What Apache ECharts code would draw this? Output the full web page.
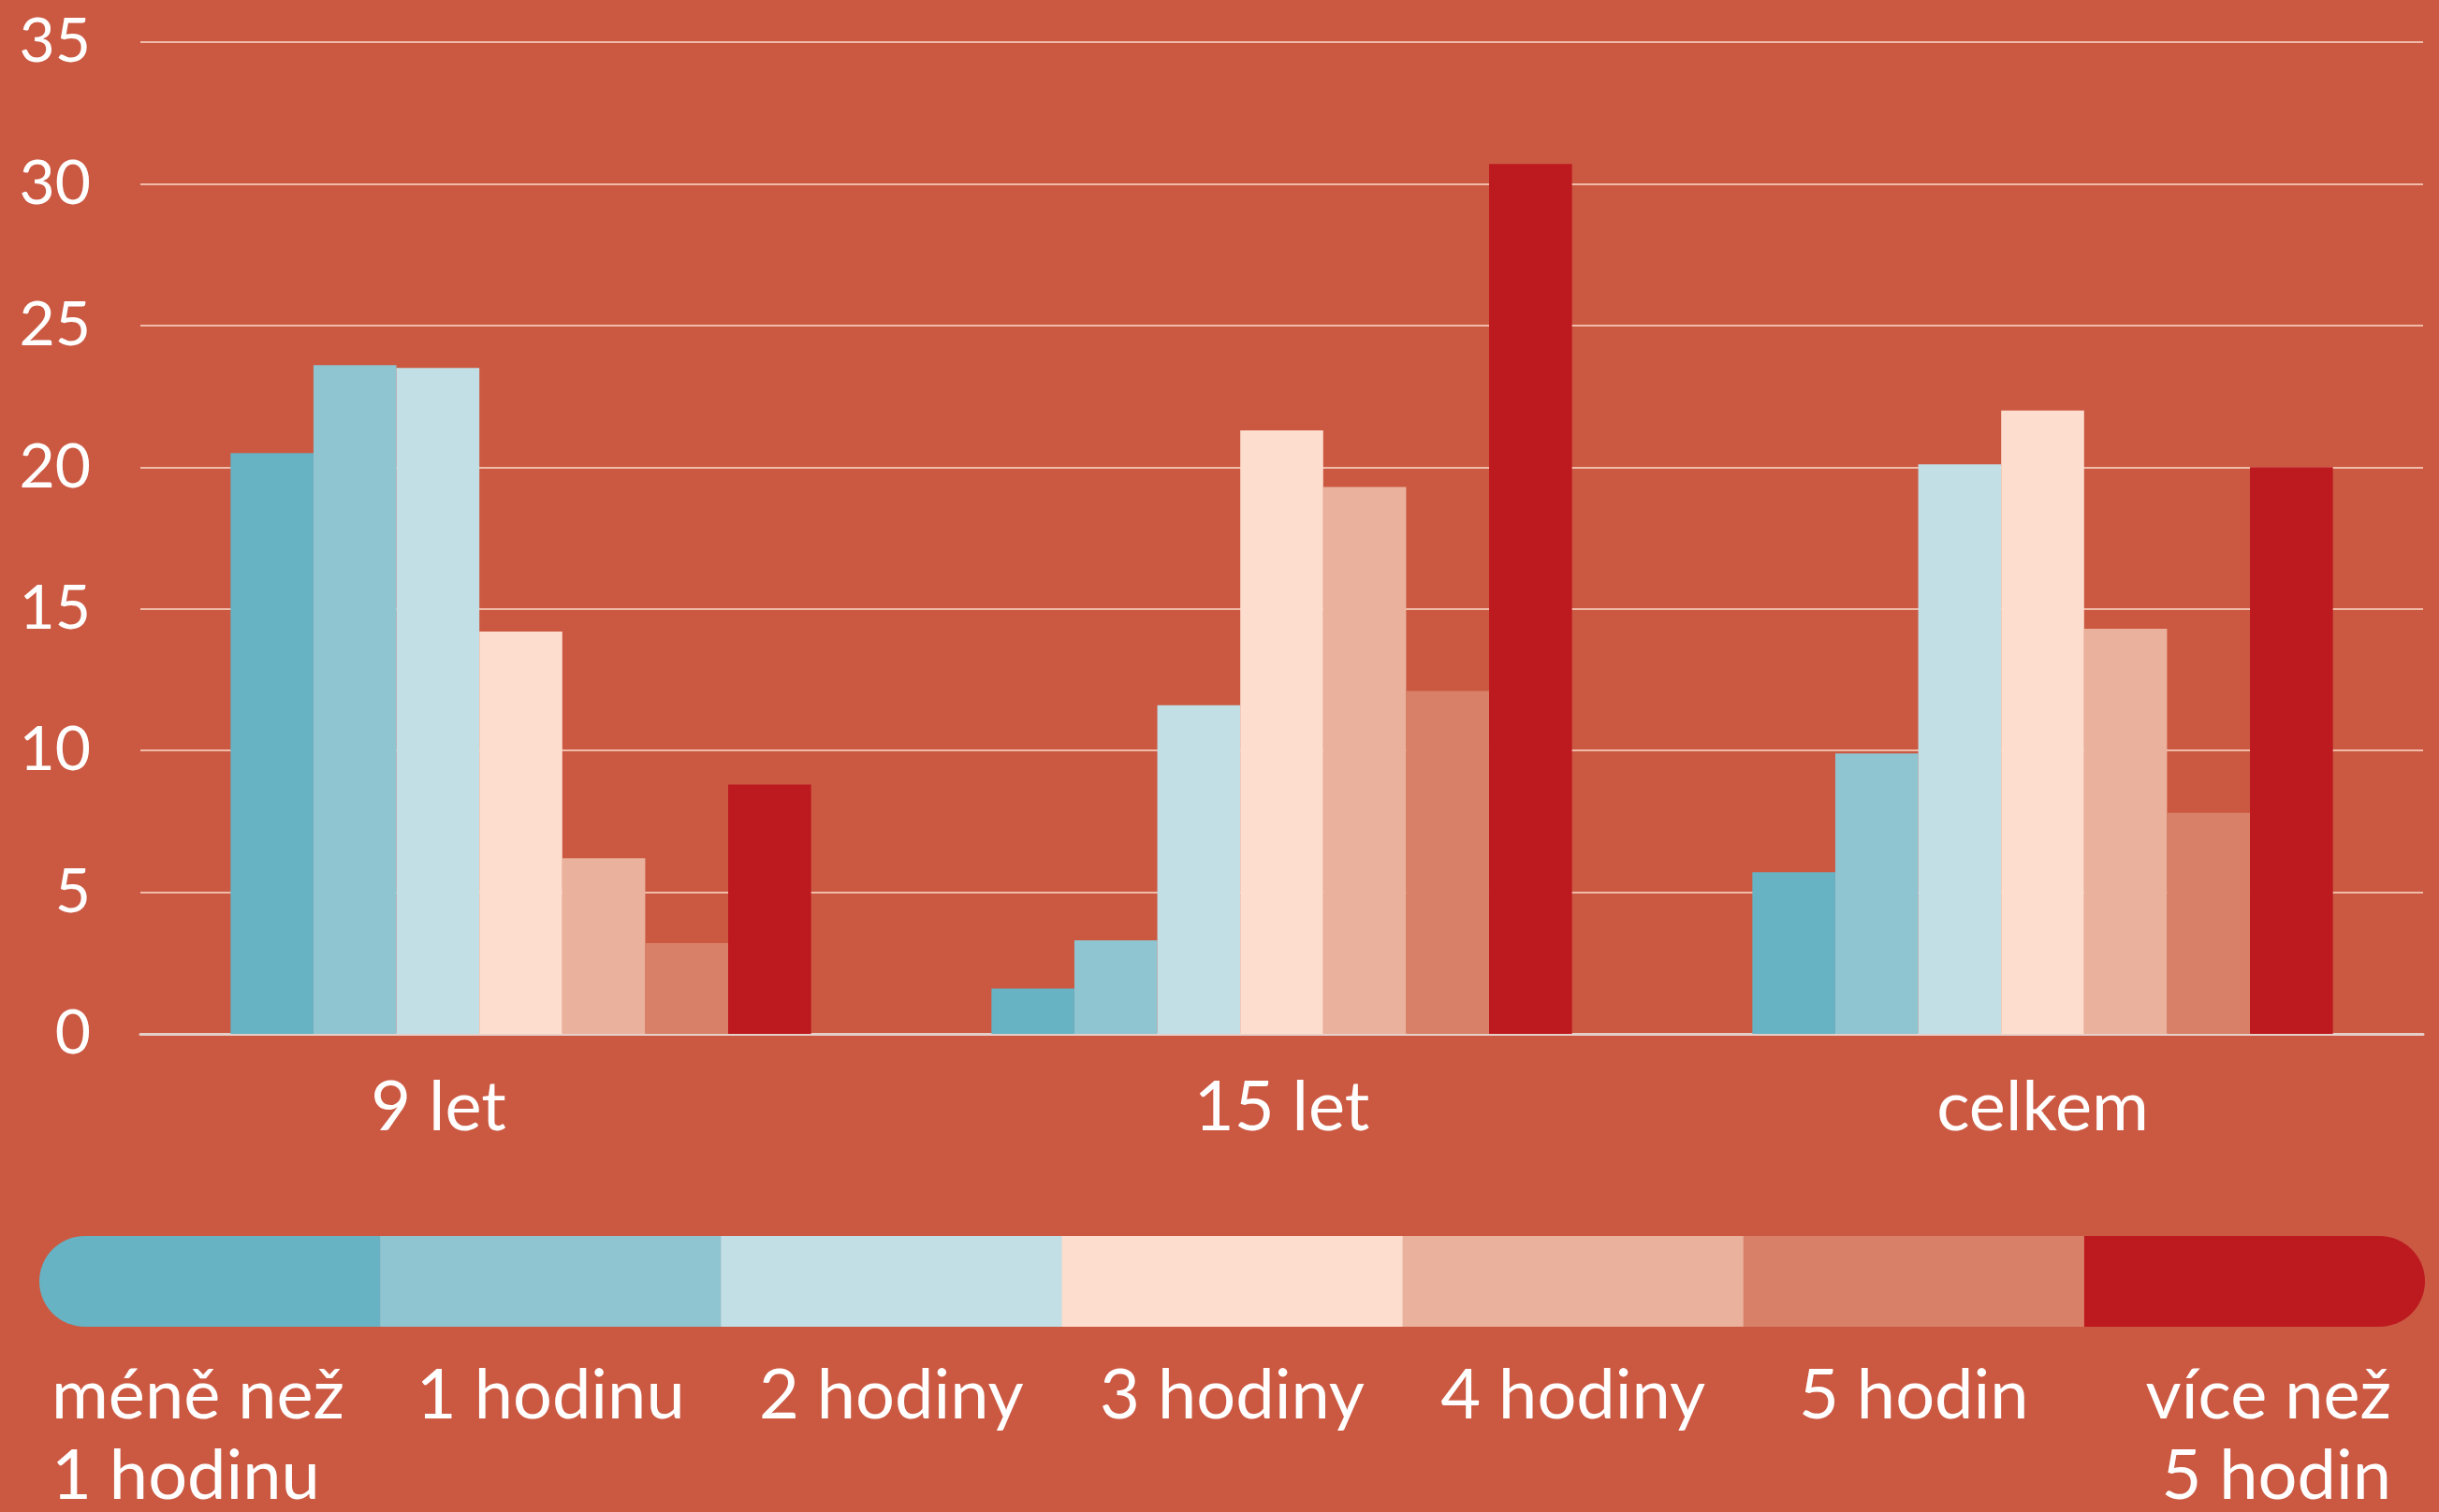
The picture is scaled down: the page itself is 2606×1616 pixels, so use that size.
<!DOCTYPE html>
<html>
<head>
<meta charset="utf-8">
<script src="https://cdn.jsdelivr.net/npm/echarts@6/dist/echarts.min.js"></script>
<style>
html,body{margin:0;padding:0;background:#CB5942;}
#c{width:2606px;height:1616px;}
</style>
</head>
<body>
<div id="c"></div>
<script>
const categories = ['9 let', '15 let', 'celkem'];
const seriesNames = ['méně než 1 hodinu', '1 hodinu', '2 hodiny', '3 hodiny', '4 hodiny', '5 hodin', 'více než 5 hodin'];
const legendLines = [['méně než', '1 hodinu'], ['1 hodinu'], ['2 hodiny'], ['3 hodiny'], ['4 hodiny'], ['5 hodin'], ['více než', '5 hodin']];
const colors = ['#67B2C3', '#8FC4D1', '#C2DFE6', '#FDDDCE', '#EAB29D', '#D88168', '#BD1A20'];
const valLess1 = [20.5, 1.6, 5.7];
const val1 = [23.6, 3.3, 9.9];
const val2 = [23.5, 11.6, 20.1];
const val3 = [14.2, 21.3, 22.0];
const val4 = [6.2, 19.3, 14.3];
const val5 = [3.2, 12.1, 7.8];
const valMore5 = [8.8, 30.7, 20.0];
const allValues = [valLess1, val1, val2, val3, val4, val5, valMore5];
const yTicks = [0, 5, 10, 15, 20, 25, 30, 35];

const FONT = 'Lato';
const chart = echarts.init(document.getElementById('c'));

const legLeft = 42, legRight = 2591, legTop = 1321, legH = 97;
const segW = (legRight - legLeft) / seriesNames.length;
const graphics = [];
seriesNames.forEach((n, i) => {
  const x = legLeft + i * segW;
  const r = (i === 0) ? [legH/2, 0, 0, legH/2] : (i === seriesNames.length - 1 ? [0, legH/2, legH/2, 0] : 0);
  graphics.push({
    type: 'rect', shape: { x: x, y: legTop, width: segW + (i < seriesNames.length - 1 ? 0.5 : 0), height: legH, r: r },
    style: { fill: colors[i] }, silent: true
  });
  const lines = legendLines[i];
  let align = 'center', tx = x + segW / 2;
  if (i === 0) { align = 'left'; tx = 55; }
  if (i === seriesNames.length - 1) { align = 'right'; tx = 2555; }
  lines.forEach((t, j) => {
    graphics.push({
      type: 'text', x: tx, y: 1492 + j * 86,
      style: { text: t, fill: '#fff', font: '74px ' + FONT, align: align, verticalAlign: 'middle' },
      silent: true
    });
  });
});

const option = {
  backgroundColor: '#CB5942',
  animation: false,
  grid: { left: 150, right: 17, top: 45, bottom: 511, containLabel: false },
  xAxis: {
    type: 'category', data: categories,
    axisLine: { show: true, lineStyle: { color: '#E6CFC8', width: 3 } },
    axisTick: { show: false },
    axisLabel: {
      color: '#fff', fontSize: 74, fontFamily: FONT, margin: 42,
      formatter: (v, idx) => idx === 0 ? '{s|' + v + '}' : v,
      rich: { s: { color: '#fff', fontSize: 74, fontFamily: FONT, padding: [0, 176, 0, 0] } }
    }
  },
  yAxis: {
    type: 'value', min: yTicks[0], max: yTicks[yTicks.length - 1], interval: 5,
    axisLine: { show: false }, axisTick: { show: false },
    splitLine: { lineStyle: { color: '#F0BBA8', width: 2 } },
    axisLabel: { color: '#fff', fontSize: 66, fontFamily: FONT, margin: 53 }
  },
  series: seriesNames.map((n, i) => ({
    name: n, type: 'bar', data: allValues[i],
    barGap: '0%', barCategoryGap: '23.7%',
    itemStyle: { color: colors[i] }
  })),
  graphic: graphics
};
chart.setOption(option);
</script>
</body>
</html>
